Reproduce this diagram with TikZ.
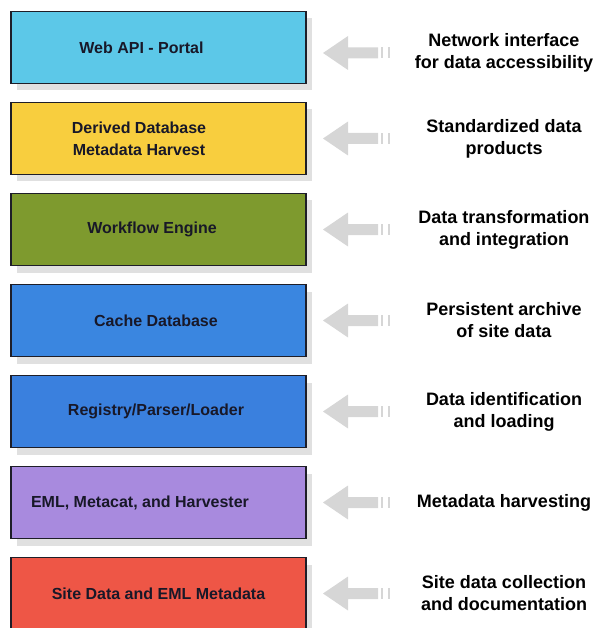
\documentclass[tikz,border=0pt]{standalone}
\usepackage{fontspec}
\setmainfont{Liberation Sans}
\usetikzlibrary{calc,shadows}
\definecolor{portalfill}{RGB}{92,200,232}
\definecolor{derivedfill}{RGB}{248,206,62}
\definecolor{workflowfill}{RGB}{126,154,46}
\definecolor{cachefill}{RGB}{58,134,224}
\definecolor{registryfill}{RGB}{58,128,222}
\definecolor{harvestfill}{RGB}{168,138,222}
\definecolor{sitefill}{RGB}{238,86,70}
\definecolor{boxline}{RGB}{30,30,40}
\definecolor{inkdark}{RGB}{24,24,40}
\definecolor{arrowgrey}{RGB}{214,214,214}
\tikzset{
  layer/.style={draw=boxline, line width=1.1pt, minimum width=295pt, minimum height=72pt,
    drop shadow={shadow xshift=6pt, shadow yshift=-7pt, fill=black, opacity=0.12}},
  layertext/.style={text=inkdark, align=center, font=\bfseries\fontsize{16}{22}\selectfont},
  note/.style={align=center, font=\bfseries\fontsize{18}{22}\selectfont}
}
\def\sidearrow(#1){\begin{scope}[shift={($(#1)+(-181,0)$)}]
  \fill[arrowgrey] (0,0) -- (25,-17) -- (25,-5.5) -- (55,-5.5) -- (55,5.5) -- (25,5.5) -- (25,17) -- cycle;
  \fill[arrowgrey] (58,-5.5) rectangle (60,5.5);
  \fill[arrowgrey] (65,-5.5) rectangle (67,5.5);
\end{scope}}

\begin{document}
\begin{tikzpicture}[x=1pt, y=-1pt]
			%%%%% START %%%%%
			\useasboundingbox (0, 0) rectangle (593, 628);
			
			\node[layer, fill=portalfill] (portal) at (158.5, 47.5) {};
			\node[layer, fill=derivedfill] (derived) at (158.5, 138.5) {};
			\node[layer, fill=workflowfill] (workflow) at (158.5, 229.5) {};
			\node[layer, fill=cachefill] (cache) at (158.5, 320.5) {};
			\node[layer, fill=registryfill] (registry) at (158.5, 411.5) {};
			\node[layer, fill=harvestfill] (harvest) at (158.5, 502.5) {};
			\node[layer, fill=sitefill] (sitedata) at (158.5, 593.5) {};
			
			\node[layertext] (portaltext) at ($(portal)+(-17, 0)$) {Web API - Portal};
			\node[layertext] (derivedtext) at ($(derived)+(-19.5, 0)$) {Derived Database\\Metadata Harvest};
			\node[layertext] (workflowtext) at ($(workflow)+(-6.5, 0)$) {Workflow Engine};
			\node[layertext] (cachetext) at ($(cache)+(-2.5, 0)$) {Cache Database};
			\node[layertext] (registrytext) at ($(registry)+(-2.5, 0)$) {Registry/Parser/Loader};
			\node[layertext] (harvesttext) at ($(harvest)+(-18.5, 0)$) {EML, Metacat, and Harvester};
			\node[layertext] (sitetext) at ($(sitedata)+(0, 0)$) {Site Data and EML Metadata};
			
			\node[note] (portalnote) at (504, 53) {Network interface\\for data accessibility};
			\node[note] (derivednote) at (504, 138.5) {Standardized data\\products};
			\node[note] (workflownote) at (504, 229.5) {Data transformation\\and integration};
			\node[note] (cachenote) at (504, 320.5) {Persistent archive\\of site data};
			\node[note] (registrynote) at (504, 411.5) {Data identification\\and loading};
			\node[note] (harvestnote) at (504, 502.5) {Metadata harvesting};
			\node[note] (sitenote) at (504, 593.5) {Site data collection\\and documentation};
			
			\sidearrow(portalnote);
			\sidearrow(derivednote);
			\sidearrow(workflownote);
			\sidearrow(cachenote);
			\sidearrow(registrynote);
			\sidearrow(harvestnote);
			\sidearrow(sitenote);
			
			%%%%% END %%%%%
\end{tikzpicture}
\end{document}
